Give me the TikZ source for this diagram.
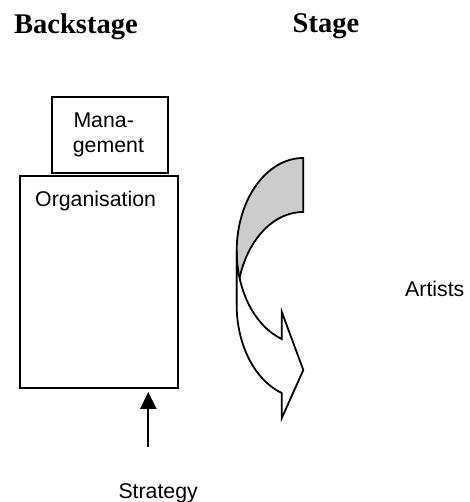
\documentclass[tikz,border=0pt]{standalone}
\usepackage{fontspec}
\setmainfont{Liberation Serif}
\newfontfamily\arialfont{Liberation Sans}
\usetikzlibrary{arrows.meta}
\definecolor{backgray}{RGB}{204,204,204}
\tikzset{
  boxstyle/.style={draw=black, line width=1.8pt, fill=white, inner sep=0pt},
  headtxt/.style={anchor=base west, inner sep=0pt, font=\fontsize{28.5}{32}\selectfont\bfseries},
  labtxt/.style={anchor=base west, inner sep=0pt, font=\arialfont\fontsize{21.3}{25}\selectfont},
  bandline/.style={draw=black, line width=1.8pt, line join=miter},
  stratarrow/.style={line width=2pt, -{Triangle[width=16pt,length=17pt]}}
}
\begin{document}
\begin{tikzpicture}[x=1pt, y=-1pt]
\useasboundingbox (0,0) rectangle (469,502);
% headings
\node[headtxt] (hback) at (14,34) {Backstage};
\node[headtxt] (hstage) at (292.5,33) {Stage};
% boxes
\node[boxstyle, minimum width=116pt, minimum height=76pt] (mgmt) at (110,135) {};
\node[boxstyle, minimum width=158pt, minimum height=212pt] (org) at (99,282) {};
\node[labtxt] (mgmt1) at (73.3,128) {Mana-};
\node[labtxt] (mgmt2) at (72.7,153) {gement};
\node[labtxt] (orgtxt) at (35,206.5) {Organisation};
% strategy
\node[labtxt] (strat) at (118.3,498.3) {Strategy};
\coordinate (sfoot) at (148.3,447);
\draw[stratarrow] (sfoot) -- ([yshift=-3pt]sfoot |- org.south);
% curved arrow: back (shaded) band
\coordinate (atop) at (303.3,158);
\coordinate (btop) at (303.3,212);
\filldraw[bandline, fill=backgray] (atop)
  arc[start angle=270, end angle=180, x radius=66.6, y radius=93]
  -- (236.7,305)
  arc[start angle=180, end angle=270, x radius=66.6, y radius=93]
  -- cycle;
% front band with arrow head
\coordinate (tip) at (303.3,370);
\filldraw[bandline, fill=white] (236.7,251)
  arc[start angle=180, end angle=108.9, x radius=66.6, y radius=93]
  -- (281.7,311.7) -- (tip) -- (281.7,418.3) -- (281.7,393)
  arc[start angle=108.9, end angle=180, x radius=66.6, y radius=93]
  -- cycle;
% artists
\node[labtxt] (artists) at (405,296) {Artists};
\end{tikzpicture}
\end{document}
